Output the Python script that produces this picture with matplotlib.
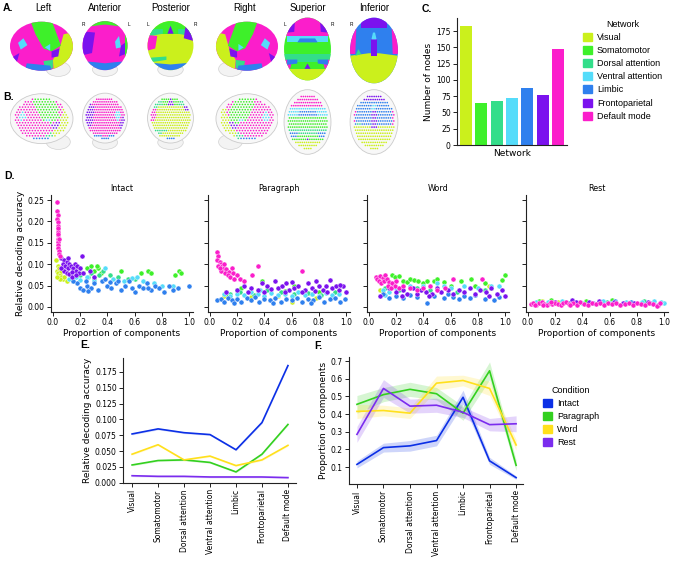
import numpy as np
import matplotlib
matplotlib.use("Agg")
import matplotlib.pyplot as plt
from matplotlib.patches import Ellipse, Polygon, Patch
from matplotlib.path import Path

plt.rcParams['font.family'] = 'DejaVu Sans'
SANS = 'Liberation Sans'

# ---------------- data ----------------
networks = ['Visual', 'Somatomotor', 'Dorsal attention', 'Ventral attention',
            'Limbic', 'Frontoparietal', 'Default mode']
net_keys = ['V', 'S', 'D', 'VA', 'L', 'F', 'DM']
net_colors = ['#cbf01c', '#3ef02a', '#33de8a', '#55dcfa', '#2f80ee', '#7b12ee', '#fb1ecb']
n_nodes = [183, 64, 68, 72, 88, 77, 148]

conditions = ['Intact', 'Paragraph', 'Word', 'Rest']
cond_colors = ['#0b2fe6', '#33d01f', '#ffe01c', '#7b2cee']

# E: relative decoding accuracy by network
acc_intact = [0.077, 0.085, 0.079, 0.076, 0.052, 0.095, 0.185]
acc_paragraph = [0.028, 0.035, 0.036, 0.032, 0.017, 0.045, 0.092]
acc_word = [0.045, 0.060, 0.036, 0.042, 0.027, 0.036, 0.059]
acc_rest = [0.011, 0.010, 0.010, 0.009, 0.009, 0.009, 0.008]

# F: proportion of components by network, with band half-widths
prop_intact = [0.115, 0.21, 0.22, 0.25, 0.495, 0.135, 0.04]
prop_paragraph = [0.455, 0.51, 0.54, 0.515, 0.405, 0.645, 0.11]
prop_word = [0.415, 0.42, 0.405, 0.575, 0.59, 0.545, 0.225]
prop_rest = [0.285, 0.545, 0.445, 0.45, 0.41, 0.34, 0.345]
band_intact = [0.02, 0.025, 0.03, 0.03, 0.04, 0.02, 0.01]
band_paragraph = [0.05, 0.04, 0.04, 0.035, 0.04, 0.05, 0.03]
band_word = [0.04, 0.03, 0.03, 0.04, 0.03, 0.04, 0.03]
band_rest = [0.045, 0.05, 0.04, 0.04, 0.03, 0.035, 0.045]

# D: (proportion of components, relative decoding accuracy) per network
intact_pts = {
    'V': [(0.02, 0.11), (0.03, 0.085), (0.04, 0.08), (0.05, 0.075), (0.035, 0.095), (0.06, 0.07),
          (0.045, 0.09), (0.07, 0.065), (0.055, 0.083), (0.08, 0.07), (0.05, 0.065), (0.1, 0.06), (0.03, 0.07)],
    'S': [(0.25, 0.09), (0.28, 0.095), (0.3, 0.085), (0.33, 0.09), (0.35, 0.08), (0.5, 0.085), (0.65, 0.08),
          (0.7, 0.085), (0.72, 0.08), (0.93, 0.083), (0.94, 0.08), (0.9, 0.075), (0.22, 0.08), (0.32, 0.095)],
    'D': [(0.2, 0.075), (0.26, 0.07), (0.3, 0.065), (0.37, 0.085), (0.42, 0.075), (0.48, 0.07),
          (0.55, 0.065), (0.28, 0.08), (0.34, 0.075), (0.6, 0.065)],
    'VA': [(0.12, 0.065), (0.15, 0.06), (0.2, 0.062), (0.25, 0.07), (0.38, 0.09), (0.44, 0.065), (0.52, 0.06),
           (0.58, 0.067), (0.66, 0.06), (0.74, 0.055), (0.8, 0.05), (0.88, 0.05), (0.17, 0.07), (0.3, 0.06),
           (0.62, 0.07)],
    'L': [(0.18, 0.055), (0.2, 0.045), (0.22, 0.04), (0.25, 0.05), (0.28, 0.045), (0.3, 0.055), (0.33, 0.04),
          (0.36, 0.06), (0.4, 0.05), (0.43, 0.045), (0.46, 0.055), (0.5, 0.04), (0.53, 0.05), (0.56, 0.06),
          (0.6, 0.035), (0.63, 0.05), (0.66, 0.045), (0.69, 0.055), (0.72, 0.04), (0.75, 0.05), (0.78, 0.045),
          (0.82, 0.035), (0.85, 0.05), (0.88, 0.04), (0.92, 0.045), (1.0, 0.048), (0.24, 0.06), (0.38, 0.065),
          (0.48, 0.06), (0.58, 0.045), (0.15, 0.06), (0.42, 0.058), (0.7, 0.045), (0.26, 0.038)],
    'F': [(0.06, 0.115), (0.08, 0.11), (0.1, 0.105), (0.12, 0.1), (0.07, 0.1), (0.09, 0.095), (0.11, 0.09),
          (0.13, 0.095), (0.15, 0.09), (0.17, 0.085), (0.19, 0.08), (0.08, 0.085), (0.1, 0.08), (0.12, 0.078),
          (0.14, 0.082), (0.16, 0.1), (0.18, 0.095), (0.21, 0.118), (0.06, 0.09), (0.14, 0.07), (0.2, 0.09),
          (0.11, 0.115), (0.17, 0.075), (0.22, 0.08), (0.3, 0.07), (0.27, 0.085)],
    'DM': [(0.03, 0.245), (0.032, 0.225), (0.033, 0.215), (0.031, 0.205), (0.034, 0.198), (0.035, 0.19),
           (0.033, 0.182), (0.036, 0.175), (0.034, 0.168), (0.037, 0.16), (0.038, 0.152), (0.036, 0.145),
           (0.04, 0.138), (0.042, 0.13), (0.045, 0.125), (0.05, 0.12), (0.035, 0.185), (0.039, 0.17),
           (0.041, 0.158)],
}
paragraph_pts = {
    'V': [(0.1, 0.025), (0.12, 0.035), (0.6, 0.012), (0.78, 0.02), (0.3, 0.022), (0.5, 0.025)],
    'S': [(0.2, 0.04), (0.23, 0.045), (0.38, 0.06), (0.62, 0.05), (0.75, 0.03), (0.8, 0.035), (0.55, 0.038),
          (0.12, 0.03)],
    'D': [(0.15, 0.03), (0.22, 0.035), (0.32, 0.028), (0.42, 0.04), (0.52, 0.035), (0.62, 0.03), (0.72, 0.033),
          (0.82, 0.028), (0.92, 0.035)],
    'VA': [(0.1, 0.03), (0.15, 0.025), (0.2, 0.03), (0.25, 0.028), (0.3, 0.035), (0.35, 0.03), (0.4, 0.025),
           (0.45, 0.032), (0.5, 0.028), (0.55, 0.03), (0.6, 0.025), (0.65, 0.035), (0.7, 0.028), (0.75, 0.03),
           (0.8, 0.025), (0.85, 0.032), (0.9, 0.028), (0.95, 0.03), (0.37, 0.04)],
    'L': [(0.05, 0.015), (0.08, 0.018), (0.1, 0.012), (0.13, 0.02), (0.16, 0.015), (0.2, 0.018), (0.23, 0.012),
          (0.27, 0.02), (0.3, 0.015), (0.33, 0.022), (0.36, 0.012), (0.4, 0.018), (0.44, 0.015), (0.48, 0.02),
          (0.52, 0.012), (0.56, 0.018), (0.6, 0.015), (0.64, 0.02), (0.68, 0.012), (0.72, 0.018), (0.76, 0.015),
          (0.8, 0.022), (0.84, 0.012), (0.88, 0.018), (0.92, 0.02), (0.96, 0.012), (0.99, 0.018), (0.18, 0.008),
          (0.46, 0.008), (0.74, 0.01)],
    'F': [(0.12, 0.035), (0.2, 0.04), (0.25, 0.05), (0.3, 0.045), (0.35, 0.04), (0.38, 0.055), (0.42, 0.05),
          (0.45, 0.042), (0.48, 0.06), (0.5, 0.045), (0.53, 0.05), (0.56, 0.055), (0.58, 0.04), (0.62, 0.045),
          (0.65, 0.05), (0.7, 0.04), (0.72, 0.055), (0.75, 0.045), (0.78, 0.06), (0.8, 0.05), (0.83, 0.04),
          (0.85, 0.048), (0.88, 0.062), (0.9, 0.045), (0.93, 0.05), (0.95, 0.04), (0.98, 0.048), (1.0, 0.035),
          (0.4, 0.035), (0.55, 0.035), (0.68, 0.035), (0.28, 0.035), (0.86, 0.035), (0.77, 0.038),
          (0.96, 0.052), (0.6, 0.058)],
    'DM': [(0.05, 0.128), (0.06, 0.12), (0.05, 0.11), (0.07, 0.105), (0.08, 0.1), (0.06, 0.095), (0.09, 0.095),
           (0.1, 0.09), (0.12, 0.088), (0.08, 0.085), (0.11, 0.08), (0.14, 0.082), (0.13, 0.075), (0.16, 0.09),
           (0.17, 0.08), (0.15, 0.07), (0.2, 0.075), (0.22, 0.065), (0.18, 0.065), (0.25, 0.06), (0.35, 0.095),
           (0.31, 0.075), (0.68, 0.085), (0.1, 0.1), (0.07, 0.09)],
}
word_pts = {
    'V': [(0.08, 0.04), (0.1, 0.035), (0.12, 0.045), (0.88, 0.05)],
    'S': [(0.17, 0.075), (0.19, 0.07), (0.22, 0.072), (0.25, 0.06), (0.28, 0.058), (0.3, 0.065), (0.33, 0.062),
          (0.36, 0.06), (0.4, 0.055), (0.43, 0.06), (0.48, 0.06), (0.5, 0.065), (0.55, 0.058), (0.6, 0.05),
          (0.68, 0.06), (0.75, 0.065), (0.78, 0.05), (0.85, 0.055), (0.98, 0.062), (1.0, 0.075), (0.9, 0.045)],
    'D': [(0.12, 0.045), (0.22, 0.04), (0.35, 0.045), (0.45, 0.04), (0.65, 0.035), (0.85, 0.04)],
    'VA': [(0.1, 0.04), (0.15, 0.035), (0.2, 0.045), (0.3, 0.05), (0.4, 0.05), (0.5, 0.055), (0.6, 0.045),
           (0.7, 0.05), (0.8, 0.045), (0.9, 0.05), (0.96, 0.048), (0.12, 0.028), (0.55, 0.05)],
    'L': [(0.15, 0.02), (0.2, 0.025), (0.25, 0.02), (0.3, 0.028), (0.35, 0.022), (0.43, 0.01), (0.48, 0.025),
          (0.55, 0.02), (0.58, 0.03), (0.62, 0.022), (0.66, 0.018), (0.7, 0.025), (0.74, 0.02), (0.78, 0.028),
          (0.85, 0.018), (0.92, 0.015), (0.96, 0.022), (0.1, 0.03)],
    'F': [(0.08, 0.025), (0.2, 0.035), (0.25, 0.04), (0.28, 0.03), (0.32, 0.045), (0.35, 0.03), (0.38, 0.04),
          (0.42, 0.035), (0.46, 0.03), (0.5, 0.045), (0.53, 0.035), (0.58, 0.04), (0.62, 0.03), (0.66, 0.04),
          (0.7, 0.035), (0.74, 0.045), (0.78, 0.03), (0.82, 0.04), (0.86, 0.035), (0.9, 0.045), (0.94, 0.03),
          (0.98, 0.04), (1.0, 0.025), (0.15, 0.045), (0.24, 0.025), (0.44, 0.025), (0.88, 0.025)],
    'DM': [(0.05, 0.07), (0.06, 0.065), (0.08, 0.072), (0.1, 0.068), (0.07, 0.06), (0.09, 0.055), (0.11, 0.06),
           (0.12, 0.075), (0.13, 0.065), (0.15, 0.058), (0.14, 0.05), (0.17, 0.055), (0.19, 0.05), (0.2, 0.06),
           (0.22, 0.045), (0.25, 0.05), (0.3, 0.045), (0.35, 0.04), (0.4, 0.045), (0.45, 0.05), (0.5, 0.04),
           (0.62, 0.065), (0.83, 0.065), (0.56, 0.045), (0.16, 0.045)],
}
rest_pts = {
    'V': [(0.1, 0.014), (0.22, 0.012), (0.34, 0.011)],
    'S': [(0.08, 0.014), (0.17, 0.015), (0.43, 0.014), (0.62, 0.015)],
    'D': [(0.27, 0.011), (0.58, 0.012), (0.85, 0.013)],
    'VA': [(0.06, 0.012), (0.15, 0.011), (0.25, 0.013), (0.4, 0.01), (0.55, 0.013), (0.6, 0.01), (0.72, 0.012),
           (0.84, 0.011), (0.93, 0.013), (1.0, 0.008), (0.98, 0.011)],
    'L': [(0.3, 0.008), (0.48, 0.01), (0.64, 0.014), (0.76, 0.012), (0.9, 0.01)],
    'F': [(0.09, 0.01), (0.2, 0.012), (0.32, 0.015), (0.35, 0.012), (0.45, 0.011), (0.52, 0.013), (0.63, 0.012),
          (0.7, 0.01), (0.78, 0.009), (0.88, 0.012), (0.96, 0.005)],
    'DM': [(0.02, 0.006), (0.04, 0.009), (0.06, 0.005), (0.08, 0.008), (0.1, 0.011), (0.12, 0.007), (0.14, 0.004),
           (0.16, 0.009), (0.18, 0.006), (0.2, 0.01), (0.22, 0.007), (0.24, 0.005), (0.26, 0.009), (0.28, 0.012),
           (0.3, 0.006), (0.33, 0.009), (0.36, 0.005), (0.38, 0.011), (0.41, 0.007), (0.44, 0.004), (0.47, 0.008),
           (0.5, 0.006), (0.53, 0.01), (0.56, 0.005), (0.59, 0.008), (0.62, 0.006), (0.65, 0.009), (0.68, 0.004),
           (0.71, 0.007), (0.74, 0.01), (0.77, 0.005), (0.8, 0.008), (0.83, 0.006), (0.86, 0.004), (0.89, 0.009),
           (0.92, 0.006), (0.95, 0.003), (0.97, 0.008), (0.05, 0.004), (0.11, 0.005), (0.17, 0.012), (0.31, 0.004)],
}

# ---------------- schematic brain views (panels A/B) ----------------
left_polys = [
    ('V', [(0.66, 0.0), (1, 0), (1, 0.8), (0.8, 0.75), (0.74, 0.5), (0.64, 0.3)]),
    ('S', [(0.3, 1), (0.62, 1), (0.76, 0.55), (0.62, 0.45), (0.5, 0.5), (0.38, 0.75)]),
    ('VA', [(0.12, 0.6), (0.2, 0.68), (0.26, 0.56), (0.16, 0.48)]),
    ('VA', [(0.52, 0.52), (0.6, 0.58), (0.6, 0.46)]),
    ('F', [(0.62, 0.45), (0.74, 0.5), (0.72, 0.36), (0.62, 0.34)]),
    ('D', [(0.5, 0.28), (0.64, 0.3), (0.64, 0.15), (0.52, 0.14)]),
    ('L', [(0.2, 0.0), (0.66, 0.0), (0.6, 0.2), (0.42, 0.22), (0.25, 0.24)]),
    ('F', [(0.04, 0.35), (0.14, 0.42), (0.1, 0.25)]),
]
right_polys = [(k, [(1 - x, y) for x, y in p]) for k, p in left_polys]
anterior_polys = [
    ('S', [(0, 0.82), (0, 1), (1, 1), (1, 0.82), (0.88, 0.88), (0.5, 0.92), (0.12, 0.88)]),
    ('S', [(0.9, 0.3), (1, 0.3), (1, 0.85), (0.9, 0.85)]),
    ('F', [(0.04, 0.38), (0.24, 0.42), (0.3, 0.78), (0.06, 0.8)]),
    ('VA', [(0.7, 0.62), (0.78, 0.72), (0.82, 0.52), (0.72, 0.5)]),
    ('L', [(0, 0.1), (1, 0.1), (1, 0.28), (0.7, 0.26), (0.5, 0.24), (0.3, 0.26), (0, 0.28)]),
    ('F', [(0.78, 0.36), (0.9, 0.4), (0.9, 0.6), (0.82, 0.55)]),
]
posterior_polys = [
    ('S', [(0, 0.76), (1, 0.76), (1, 1), (0, 1)]),
    ('D', [(0, 0.7), (0.35, 0.76), (0.35, 0.84), (0, 0.84)]),
    ('D', [(0.65, 0.76), (1, 0.7), (1, 0.84), (0.65, 0.84)]),
    ('F', [(0.44, 0.76), (0.56, 0.76), (0.5, 0.9)]),
    ('F', [(0.76, 0.68), (1, 0.62), (1, 0.9), (0.8, 0.92)]),
    ('DM', [(0, 0.45), (0.2, 0.5), (0.24, 0.72), (0, 0.74)]),
    ('D', [(0.12, 0.26), (0.42, 0.3), (0.42, 0.36), (0.12, 0.34)]),
    ('L', [(0, 0.1), (1, 0.1), (1, 0.26), (0.5, 0.22), (0, 0.26)]),
]
superior_polys = [
    ('DM', [(0, 0.7), (1, 0.7), (1, 1), (0, 1)]),
    ('F', [(0, 0.74), (0.24, 0.76), (0.26, 1), (0, 1)]),
    ('F', [(0.76, 0.76), (1, 0.74), (1, 1), (0.74, 1)]),
    ('VA', [(0.1, 0.6), (0.9, 0.6), (0.9, 0.7), (0.1, 0.7)]),
    ('L', [(0.3, 0.6), (0.7, 0.6), (0.65, 0.66), (0.35, 0.66)]),
    ('D', [(0, 0.3), (1, 0.3), (1, 0.42), (0, 0.42)]),
    ('V', [(0, 0), (1, 0), (1, 0.2), (0, 0.2)]),
    ('DM', [(0, 0.2), (0.16, 0.2), (0.2, 0.32), (0, 0.35)]),
    ('DM', [(1, 0.2), (0.84, 0.2), (0.8, 0.32), (1, 0.35)]),
    ('L', [(0.1, 0.26), (0.3, 0.28), (0.3, 0.34), (0.1, 0.34)]),
    ('L', [(0.9, 0.26), (0.7, 0.28), (0.7, 0.34), (0.9, 0.34)]),
    ('F', [(0.44, 0.2), (0.56, 0.2), (0.5, 0.28)]),
]
inferior_polys = [
    ('F', [(0.25, 0.82), (0.75, 0.82), (0.75, 1), (0.25, 1)]),
    ('DM', [(0, 0.45), (0.14, 0.45), (0.16, 0.82), (0, 0.82)]),
    ('DM', [(1, 0.45), (0.86, 0.45), (0.84, 0.82), (1, 0.82)]),
    ('V', [(0, 0), (1, 0), (1, 0.42), (0.6, 0.46), (0.4, 0.46), (0, 0.42)]),
    ('F', [(0.45, 0.42), (0.55, 0.42), (0.55, 0.66), (0.45, 0.66)]),
    ('VA', [(0.45, 0.66), (0.55, 0.66), (0.52, 0.76), (0.48, 0.76)]),
    ('D', [(0.14, 0.42), (0.25, 0.45), (0.2, 0.52)]),
]

view_titles = ['Left', 'Anterior', 'Posterior', 'Right', 'Superior', 'Inferior']
view_side = [None, ('R', 'L'), ('L', 'R'), None, ('L', 'R'), ('R', None)]
view_base = ['DM', 'DM', 'V', 'DM', 'S', 'L']
view_polys = [left_polys, anterior_polys, posterior_polys, right_polys, superior_polys, inferior_polys]
view_shape = [(0.47, 0.54, 0.94, 0.86), (0.5, 0.55, 0.9, 0.86), (0.5, 0.55, 0.9, 0.86),
              (0.53, 0.54, 0.94, 0.86), (0.5, 0.5, 0.92, 0.95), (0.5, 0.5, 0.92, 0.95)]
view_extra = [(0.72, 0.14, 0.36, 0.26), (0.5, 0.13, 0.5, 0.24), (0.5, 0.13, 0.5, 0.24),
              (0.28, 0.14, 0.36, 0.26), None, None]
# pixel boxes (x0, x1, y0, y1) in the 680x561 canvas
a_boxes = [(10, 77, 20, 77), (80, 130, 20, 77), (145, 196, 20, 77), (212, 278, 20, 77),
           (282, 333, 16, 82), (348, 400, 16, 85)]
b_boxes = [(10, 77, 92, 150), (80, 130, 92, 150), (145, 196, 92, 150), (212, 278, 92, 150),
           (282, 333, 88, 156), (348, 400, 88, 156)]

W, H = 680, 561
fig = plt.figure(figsize=(6.8, 5.61), dpi=100)


def px_axes(x0, x1, y0, y1):
    return fig.add_axes([x0 / W, 1 - y1 / H, (x1 - x0) / W, (y1 - y0) / H])


cmap = dict(zip(net_keys, net_colors))


def draw_view(ax, i, dots):
    ax.set_xlim(0, 1)
    ax.set_ylim(0, 1)
    ax.axis('off')
    cx, cy, w, h = view_shape[i]
    if view_extra[i] is not None:
        ex, ey, ew, eh = view_extra[i]
        ax.add_patch(Ellipse((ex, ey), ew, eh, fc='#f3f3f3', ec='#d2d2d2', lw=0.5, zorder=1))
    if not dots:
        brain = Ellipse((cx, cy), w, h, fc=cmap[view_base[i]], ec='none', zorder=2)
        ax.add_patch(brain)
        for k, pts in view_polys[i]:
            p = Polygon(pts, closed=True, fc=cmap[k], ec='none', zorder=3)
            ax.add_patch(p)
            p.set_clip_path(brain)
    else:
        ax.add_patch(Ellipse((cx, cy), w, h, fc='#f8f8f8', ec='#cbcbcb', lw=0.6, zorder=2))
        gx, gy = np.meshgrid(np.arange(0.02, 1.0, 0.042), np.arange(0.02, 1.0, 0.045))
        gx = gx + (np.round(gy / 0.045) % 2) * 0.021
        gx, gy = gx.ravel(), gy.ravel()
        inside = ((gx - cx) / (w * 0.43)) ** 2 + ((gy - cy) / (h * 0.42)) ** 2 < 1
        gx, gy = gx[inside], gy[inside]
        cols = np.array([cmap[view_base[i]]] * len(gx), dtype=object)
        for k, pts in view_polys[i]:
            m = Path(pts).contains_points(np.column_stack([gx, gy]))
            cols[m] = cmap[k]
        ax.scatter(gx, gy, s=1.4, c=list(cols), lw=0, zorder=3)


for i in range(6):
    ax = px_axes(*a_boxes[i])
    draw_view(ax, i, dots=False)
    xc = (a_boxes[i][0] + a_boxes[i][1]) / 2
    fig.text(xc / W, 1 - 8 / H, view_titles[i], ha='center', va='center', fontsize=7, family=SANS)
    if view_side[i]:
        l, r = view_side[i]
        if l:
            fig.text((a_boxes[i][0] + 3) / W, 1 - 24 / H, l, fontsize=3.5, ha='center', va='center', family=SANS)
        if r:
            fig.text((a_boxes[i][1] - 1) / W, 1 - 24 / H, r, fontsize=3.5, ha='center', va='center', family=SANS)
    axb = px_axes(*b_boxes[i])
    draw_view(axb, i, dots=True)

for lab, x, y in [('A.', 3, 8), ('B.', 3, 97), ('C.', 422, 9), ('D.', 4, 176), ('E.', 80, 345), ('F.', 314, 346)]:
    fig.text(x / W, 1 - y / H, lab, fontsize=7.5, weight='bold', family=SANS, va='center')


def style(ax):
    for s in ['top', 'right']:
        ax.spines[s].set_visible(False)
    for s in ['left', 'bottom']:
        ax.spines[s].set_linewidth(0.8)
        ax.spines[s].set_color('#222222')
    ax.tick_params(labelsize=5.5, length=3, width=0.7, pad=1.5, color='#222222')


# ---------------- C: node counts ----------------
axc = px_axes(457, 567, 18, 145)
axc.bar(range(len(networks)), n_nodes, width=0.78, color=net_colors)
axc.set_xlim(-0.6, 6.6)
axc.set_ylim(0, 195)
axc.set_yticks([0, 25, 50, 75, 100, 125, 150, 175])
axc.set_xticks([])
style(axc)
axc.set_ylabel('Number of nodes', fontsize=6.5, labelpad=2)
axc.set_xlabel('Network', fontsize=6.5, labelpad=3)
net_handles = [Patch(color=c, label=n) for n, c in zip(networks, net_colors)]
fig.legend(handles=net_handles, title='Network', loc='upper left', bbox_to_anchor=(578 / W, 1 - 15 / H),
           frameon=False, prop={'family': SANS, 'size': 6.5}, title_fontproperties={'family': SANS, 'size': 6.5},
           handlelength=1.0, handleheight=1.0, handletextpad=0.6, labelspacing=0.45, borderpad=0)

# ---------------- D: scatter per condition ----------------
d_lefts = [51, 208, 367, 526]
all_pts = [intact_pts, paragraph_pts, word_pts, rest_pts]
for j, cond in enumerate(conditions):
    ax = px_axes(d_lefts[j], d_lefts[j] + 142, 195, 312)
    for k, c in zip(net_keys, net_colors):
        xy = np.array(all_pts[j][k])
        ax.scatter(xy[:, 0], xy[:, 1], s=13, color=c, edgecolor='white', linewidth=0.3, zorder=3)
    ax.set_xlim(-0.015, 1.03)
    ax.set_ylim(-0.012, 0.262)
    ax.set_xticks([0, 0.2, 0.4, 0.6, 0.8, 1.0])
    ax.set_yticks([0, 0.05, 0.1, 0.15, 0.2, 0.25])
    style(ax)
    if j == 0:
        ax.set_ylabel('Relative decoding accuracy', fontsize=6.5, labelpad=2)
    else:
        ax.set_yticklabels([])
    ax.set_xlabel('Proportion of components', fontsize=6.5, labelpad=1)
    ax.set_title(cond, fontsize=5.8, pad=3)

# ---------------- E: decoding accuracy by network ----------------
axe = px_axes(123, 296, 358, 483)
xs = np.arange(len(networks))
for vals, c in zip([acc_intact, acc_paragraph, acc_word, acc_rest], cond_colors):
    axe.fill_between(xs, np.array(vals) - 0.0015, np.array(vals) + 0.0015, color=c, alpha=0.15, lw=0)
    axe.plot(xs, vals, color=c, lw=1.2)
axe.set_xlim(-0.35, 6.31)
axe.set_ylim(-0.0005, 0.197)
axe.set_yticks([0, 0.025, 0.05, 0.075, 0.1, 0.125, 0.15, 0.175])
axe.set_xticks(xs)
axe.set_xticklabels(networks, rotation=90)
style(axe)
axe.set_ylabel('Relative decoding accuracy', fontsize=6.5, labelpad=2)

# ---------------- F: proportion of components by network ----------------
axf = px_axes(349, 523, 357, 484)
for vals, band, c in zip([prop_intact, prop_paragraph, prop_word, prop_rest],
                         [band_intact, band_paragraph, band_word, band_rest], cond_colors):
    v = np.array(vals)
    b = np.array(band)
    axf.fill_between(xs, v - b, v + b, color=c, alpha=0.2, lw=0)
    axf.plot(xs, vals, color=c, lw=1.2)
axf.set_xlim(-0.3, 6.26)
axf.set_ylim(0.004, 0.723)
axf.set_yticks([0.1, 0.2, 0.3, 0.4, 0.5, 0.6, 0.7])
axf.set_xticks(xs)
axf.set_xticklabels(networks, rotation=90)
style(axf)
axf.set_ylabel('Proportion of components', fontsize=6.5, labelpad=2)
cond_handles = [Patch(color=c, label=n) for n, c in zip(conditions, cond_colors)]
fig.legend(handles=cond_handles, title='Condition', loc='upper left', bbox_to_anchor=(538 / W, 1 - 381 / H),
           frameon=False, prop={'family': SANS, 'size': 6.5}, title_fontproperties={'family': SANS, 'size': 6.5},
           handlelength=1.0, handleheight=1.0, handletextpad=0.6, labelspacing=0.45, borderpad=0)

fig.savefig('out.png', dpi=100)
